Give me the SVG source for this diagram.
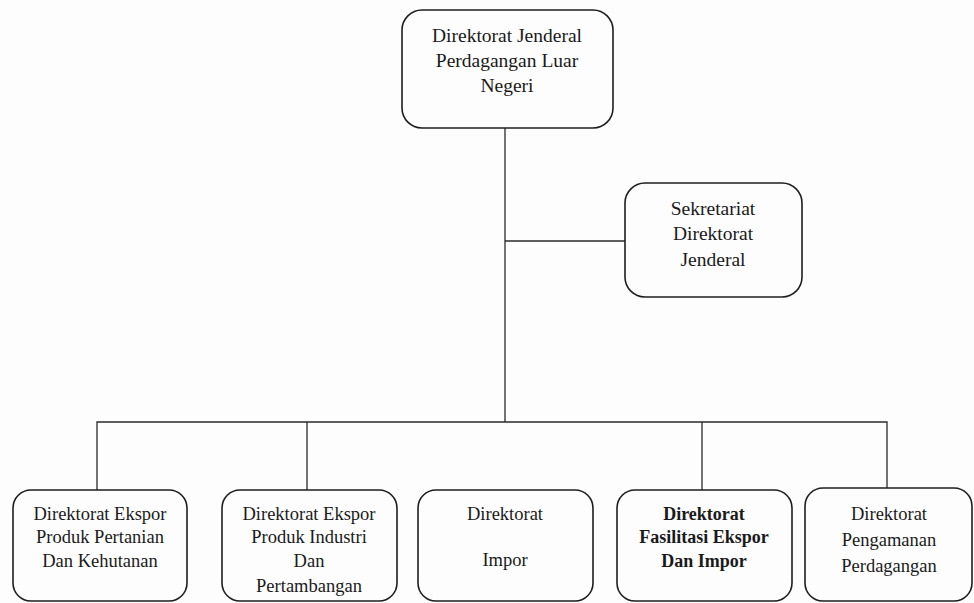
<svg xmlns="http://www.w3.org/2000/svg" width="974" height="603" viewBox="0 0 974 603">
<style>
.box{fill:none;stroke:#1e1e1e;stroke-width:1.6}
.ln{fill:none;stroke:#2a2a2a;stroke-width:1.3}
text{font-family:"Liberation Serif","Times New Roman",serif;fill:#1a1a1a;text-anchor:middle}
.t1{font-size:19.5px}
.t2{font-size:18.5px}
.b{font-weight:bold;font-size:18px}
</style>
<rect width="974" height="603" fill="#fdfdfd"/>
<g id="connectors">
<path class="ln" d="M505 128 V422"/>
<path class="ln" d="M505 241 H625"/>
<path class="ln" d="M97 490 V422 H887 V488"/>
<path class="ln" d="M307 422 V490"/>
<path class="ln" d="M702 422 V490"/>
</g>
<g id="dirjen">
<rect class="box" x="402" y="10" width="211" height="118" rx="20"/>
<text class="t1" x="507" y="42">Direktorat Jenderal</text>
<text class="t1" x="507" y="67">Perdagangan Luar</text>
<text class="t1" x="507" y="92">Negeri</text>
</g>
<g id="sekretariat">
<rect class="box" x="625" y="183" width="177" height="114" rx="20"/>
<text class="t1" x="713" y="215">Sekretariat</text>
<text class="t1" x="713" y="240">Direktorat</text>
<text class="t1" x="713" y="266">Jenderal</text>
</g>
<g id="ekspor-pertanian">
<rect class="box" x="13" y="490" width="174" height="111" rx="18"/>
<text class="t2" x="100" y="520">Direktorat Ekspor</text>
<text class="t2" x="100" y="543">Produk Pertanian</text>
<text class="t2" x="100" y="567">Dan Kehutanan</text>
</g>
<g id="ekspor-industri">
<rect class="box" x="222" y="490" width="175" height="111" rx="18"/>
<text class="t2" x="309" y="520">Direktorat Ekspor</text>
<text class="t2" x="309" y="543">Produk Industri</text>
<text class="t2" x="309" y="567">Dan</text>
<text class="t2" x="309" y="592">Pertambangan</text>
</g>
<g id="impor">
<rect class="box" x="418" y="490" width="175" height="111" rx="18"/>
<text class="t2" x="505" y="520">Direktorat</text>
<text class="t2" x="505" y="566">Impor</text>
</g>
<g id="fasilitasi">
<rect class="box" x="617" y="490" width="175" height="111" rx="18"/>
<text class="b" x="704" y="520">Direktorat</text>
<text class="b" x="704" y="543">Fasilitasi Ekspor</text>
<text class="b" x="704" y="567">Dan Impor</text>
</g>
<g id="pengamanan">
<rect class="box" x="805" y="488" width="167" height="113" rx="18"/>
<text class="t2" x="889" y="520">Direktorat</text>
<text class="t2" x="889" y="546">Pengamanan</text>
<text class="t2" x="889" y="572">Perdagangan</text>
</g>
</svg>
